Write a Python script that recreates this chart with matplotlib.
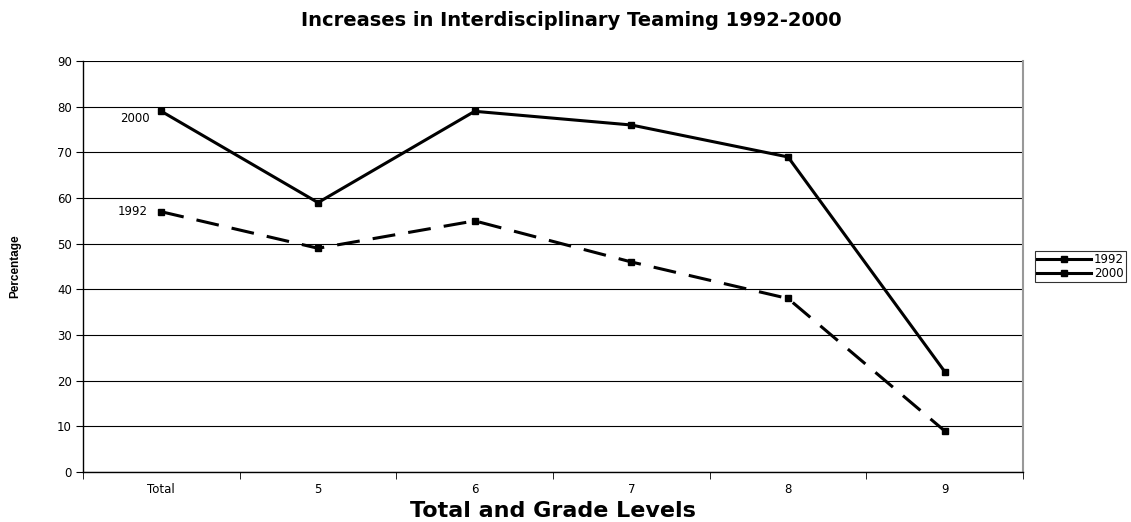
import matplotlib
matplotlib.use("Agg")
import matplotlib.pyplot as plt

plt.rcParams["font.family"] = ["DejaVu Sans"]

# DATA
categories = ["Total", "5", "6", "7", "8", "9"]
pct_1992 = [57, 49, 55, 46, 38, 9]
pct_2000 = [79, 59, 79, 76, 69, 22]
y_ticks = list(range(0, 100, 10))

DASH = (0, (7.5, 4.3))

fig = plt.figure(figsize=(11.31, 5.22), dpi=100)
ax = fig.add_axes([0.0734, 0.0958, 0.8311, 0.7872])

x = list(range(len(categories)))
ax.plot(x, pct_1992, color="black", linewidth=2.2, linestyle=DASH,
        marker="s", markersize=5, label="1992")
ax.plot(x, pct_2000, color="black", linewidth=2.2, linestyle="-",
        marker="s", markersize=5, label="2000")

# series name labels next to the first point
ax.annotate("2000", (0, pct_2000[0]), xytext=(-8, -5), textcoords="offset points",
            ha="right", va="center", fontsize=8.5)
ax.annotate("1992", (0, pct_1992[0]), xytext=(-10, 0), textcoords="offset points",
            ha="right", va="center", fontsize=8.5)

ax.set_xlim(-0.5, len(categories) - 0.5)
ax.set_ylim(0, 90)
ax.set_yticks(y_ticks)
ax.set_xticks(x)
ax.set_xticklabels(categories)
ax.set_xticks([i + 0.5 for i in range(-1, len(categories))], minor=True)
ax.tick_params(axis="x", which="major", length=0, labelsize=8.5, pad=8)
ax.tick_params(axis="x", which="minor", length=5, direction="out")
ax.tick_params(axis="y", labelsize=8.5, length=5, direction="out", pad=3)

ax.yaxis.grid(True, color="black", linewidth=0.8)
ax.set_axisbelow(True)
for side in ["left", "bottom"]:
    ax.spines[side].set_color("black")
    ax.spines[side].set_linewidth(1.0)
ax.spines["right"].set_color("#999999")
ax.spines["right"].set_linewidth(1.5)
ax.spines["top"].set_visible(False)

fig.text(571 / 1131, 1 - 20 / 522, "Increases in Interdisciplinary Teaming 1992-2000",
         ha="center", va="center", fontsize=14, fontweight="bold")
ax.set_xlabel("Total and Grade Levels", fontsize=16, fontweight="bold", va="center")
ax.xaxis.set_label_coords(0.5, -0.0949)
ax.set_ylabel("Percentage", fontsize=8.5, fontweight="bold",
              family="Liberation Sans", va="center")
ax.yaxis.set_label_coords(-0.0723, 0.5)

leg = ax.legend(loc="center left", bbox_to_anchor=(1.0128, 0.5), fontsize=8.5,
                frameon=True, fancybox=False, edgecolor="black", borderpad=0.15,
                handlelength=4.6, handletextpad=0.25, labelspacing=0.05,
                borderaxespad=0)
leg.get_frame().set_linewidth(0.8)
for h in leg.get_lines():
    h.set_linestyle("-")

fig.savefig("out.png", dpi=100)
